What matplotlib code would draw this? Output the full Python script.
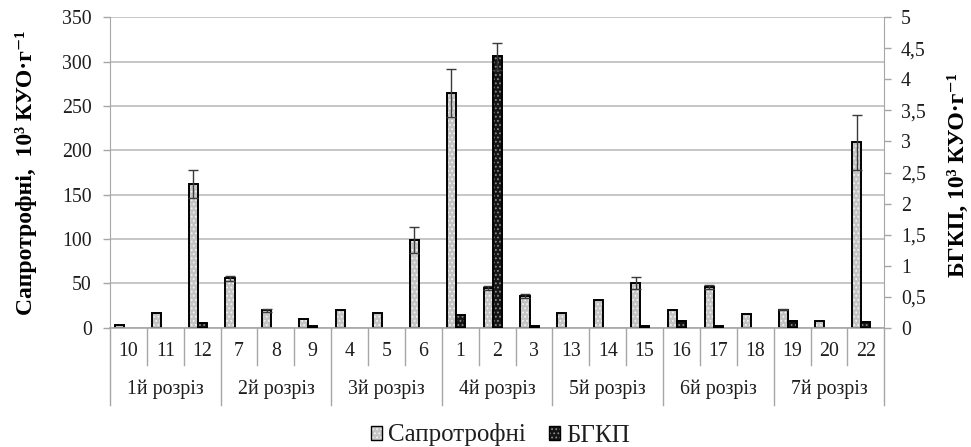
import matplotlib
matplotlib.use("Agg")
import matplotlib.pyplot as plt
import matplotlib.transforms as mtransforms
from matplotlib.patches import Patch, Rectangle
from matplotlib.legend_handler import HandlerBase

# ---------------- data ----------------
categories = ['10', '11', '12', '7', '8', '9', '4', '5', '6', '1', '2', '3',
              '13', '14', '15', '16', '17', '18', '19', '20', '22']
groups = ['1й розріз', '2й розріз', '3й розріз', '4й розріз',
          '5й розріз', '6й розріз', '7й розріз']
group_size = [3, 3, 3, 3, 3, 3, 3]

sapro = [3.5, 17, 162, 55.5, 19.5, 9.5, 20.5, 16.5, 99, 265, 45, 35.5,
         16.5, 31.5, 50.5, 19.5, 46, 16, 20.5, 8, 209]
sapro_err = [0, 0, 16, 2.5, 2, 0, 0, 0, 15, 27, 2.5, 2.5,
             0, 0, 7, 0, 2.5, 0, 1, 0, 31]
bgkp = [0, 0, 0.08, 0, 0, 0.03, 0, 0, 0, 0.21, 4.37, 0.03,
        0, 0, 0.02, 0.11, 0.03, 0, 0.11, 0, 0.085]
bgkp_err = [0, 0, 0, 0, 0, 0, 0, 0, 0, 0, 0.22, 0,
            0, 0, 0, 0, 0, 0, 0, 0, 0]

left_ticks = [0, 50, 100, 150, 200, 250, 300, 350]
right_ticks = [0, 0.5, 1, 1.5, 2, 2.5, 3, 3.5, 4, 4.5, 5]
right_labels = ['0', '0,5', '1', '1,5', '2', '2,5', '3', '3,5', '4', '4,5', '5']

# ---------------- style ----------------
plt.rcParams['font.family'] = ['Liberation Serif', 'DejaVu Serif']
plt.rcParams['hatch.linewidth'] = 0.8
txt_col = '#1e1e1e'
grid_col = '#bcbcbc'
sp_col = '#a6a6a6'
fs = 14.3

fig = plt.figure(figsize=(9.71, 4.47), dpi=100)
ax = fig.add_axes([110 / 971, 1 - 327.7 / 447, (884.3 - 110) / 971, 310.4 / 447])
ax2 = ax.twinx()

n = len(categories)
w = 0.245
xs = [i + 0.5 for i in range(n)]
xs_s = [x - w for x in xs]

sapro_face = '#c4c4c4'
sapro_hatch = '#f2f2f2'
bgkp_face = '#141414'
bgkp_hatch = '#8a8a8a'


def draw_bars(a, x, vals, face, hatchc):
    px = [xx for xx, v in zip(x, vals) if v > 0]
    pv = [v for v in vals if v > 0]
    a.bar(px, pv, width=w, color=face, edgecolor=hatchc,
          hatch='....', linewidth=0, zorder=3)
    a.bar(px, pv, width=w, fill=False, edgecolor='black', linewidth=1.4, zorder=4)


def draw_err(a, x, vals, errs):
    ex = [xx for xx, e in zip(x, errs) if e > 0]
    ey = [v for v, e in zip(vals, errs) if e > 0]
    ee = [e for e in errs if e > 0]
    a.errorbar(ex, ey, yerr=ee, fmt='none', ecolor='#3a3a3a', elinewidth=1.0,
               capsize=3.8, capthick=1.0, zorder=5)


draw_bars(ax, xs_s, sapro, sapro_face, sapro_hatch)
draw_err(ax, xs_s, sapro, sapro_err)
draw_bars(ax2, xs, bgkp, bgkp_face, bgkp_hatch)
draw_err(ax2, xs, bgkp, bgkp_err)

# axes limits & ticks
ax.set_xlim(0, n)
ax.set_ylim(0, 350)
ax2.set_ylim(0, 5)
ax.set_yticks(left_ticks)
ax.set_yticklabels([str(t) for t in left_ticks])
ax2.set_yticks(right_ticks)
ax2.set_yticklabels(right_labels)
ax.set_xticks([])
ax2.set_xticks([])

ax.yaxis.grid(True, color=grid_col, linewidth=1.2, zorder=0)
ax.set_axisbelow(True)
ax.tick_params(axis='y', length=5, width=1, color=sp_col, pad=8,
               labelsize=fs, labelcolor=txt_col)
ax2.tick_params(axis='y', length=5, width=1, color=sp_col, pad=7,
                labelsize=fs, labelcolor=txt_col)

for a in (ax, ax2):
    a.spines['top'].set_visible(False)
    a.spines['left'].set_color(sp_col)
    a.spines['right'].set_color(sp_col)
    a.spines['bottom'].set_color(sp_col)
    a.patch.set_visible(False)
ax2.spines['left'].set_visible(False)
ax.spines['right'].set_visible(False)
ax.spines['bottom'].set_visible(False)
ax2.spines['bottom'].set_visible(False)

# category axis (two levels)
trans = mtransforms.blended_transform_factory(ax.transData, ax.transAxes)
cat_div = -(365 - 327.7) / 310.4
grp_div = -(405 - 327.7) / 310.4
cat_y = -(351 - 327.7) / 310.4
grp_y = -(389 - 327.7) / 310.4

ax.plot([0, n], [0, 0], transform=trans, color=sp_col, lw=1.2, clip_on=False, zorder=6)
group_edges = [0]
for g in group_size:
    group_edges.append(group_edges[-1] + g)
for i in range(n + 1):
    bottom = grp_div if i in group_edges else cat_div
    ax.plot([i, i], [0, bottom], transform=trans, color=sp_col, lw=1.0,
            clip_on=False)
for x, c in zip(xs, categories):
    ax.text(x, cat_y, c, transform=trans, ha='center', va='center',
            fontsize=fs, color=txt_col)
for k, g in enumerate(groups):
    gx = (group_edges[k] + group_edges[k + 1]) / 2
    ax.text(gx, grp_y, g, transform=trans, ha='center', va='center',
            fontsize=fs, color=txt_col)

# axis titles
fig.text(26 / 971, 1 - 172.5 / 447, 'Сапротрофні,  10³ КУО·г⁻¹', rotation=90,
         ha='center', va='center', fontsize=17, fontweight='bold', color='black')
fig.text(958 / 971, 1 - 175 / 447, 'БГКП, 10³ КУО·г⁻¹', rotation=90,
         ha='center', va='center', fontsize=17, fontweight='bold', color='black')


# legend
class HatchBox(HandlerBase):
    def __init__(self, face, hatchc):
        super().__init__()
        self.face = face
        self.hatchc = hatchc

    def create_artists(self, legend, orig_handle, xdescent, ydescent,
                       width, height, fontsize, trans):
        r1 = Rectangle((-xdescent, -ydescent), width, height, facecolor=self.face,
                       edgecolor=self.hatchc, hatch='....', linewidth=0,
                       transform=trans)
        r2 = Rectangle((-xdescent, -ydescent), width, height, fill=False,
                       edgecolor='black', linewidth=1.0, transform=trans)
        return [r1, r2]


h1 = Patch(facecolor=sapro_face)
h2 = Patch(facecolor=bgkp_face)
fig.legend([h1, h2], ['Сапротрофні', 'БГКП'],
           handler_map={h1: HatchBox(sapro_face, sapro_hatch),
                        h2: HatchBox(bgkp_face, bgkp_hatch)},
           loc='center', bbox_to_anchor=(0.5 + 15 / 971, 1 - 435 / 447), ncol=2,
           frameon=False, fontsize=18, handlelength=0.45, handleheight=0.48,
           handletextpad=0.25, columnspacing=0.9, labelcolor=txt_col)

fig.savefig('out.png', dpi=100)
